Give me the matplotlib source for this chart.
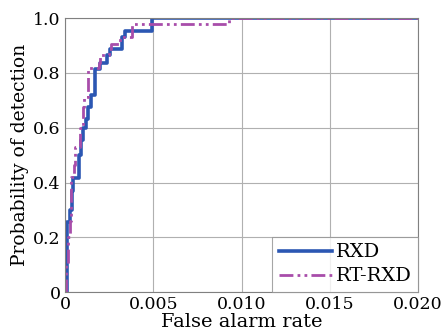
import numpy as np
import matplotlib
matplotlib.use("Agg")
import matplotlib.pyplot as plt

plt.rcParams['font.family'] = ['DejaVu Serif']

# ROC points (false alarm rate, probability of detection)
rxd_far = [0, 0.0001, 0.0003, 0.0004, 0.00044, 0.00081, 0.0009, 0.001, 0.0012,
           0.0013, 0.0015, 0.0017, 0.002, 0.00237, 0.00256, 0.00322, 0.00341,
           0.00493, 0.02]
rxd_pd = [0, 0.257, 0.30, 0.37, 0.415, 0.50, 0.555, 0.60, 0.63,
          0.676, 0.72, 0.816, 0.837, 0.865, 0.886, 0.932, 0.954,
          1.0, 1.0]

rt_far = [0, 0.00006, 0.00015, 0.0003, 0.00035, 0.0005, 0.00055, 0.00085, 0.001,
          0.0011, 0.0013, 0.0019, 0.002, 0.0025, 0.0026, 0.0031, 0.0038,
          0.0093, 0.02]
rt_pd = [0, 0.1, 0.2, 0.26, 0.42, 0.464, 0.53, 0.60, 0.676,
         0.713, 0.817, 0.835, 0.865, 0.886, 0.907, 0.93, 0.977,
         1.0, 1.0]

xticks = [0, 0.005, 0.010, 0.015, 0.020]
xlabels = ["0", "0.005", "0.010", "0.015", "0.020"]
yticks = [0, 0.2, 0.4, 0.6, 0.8, 1.0]
ylabels = ["0", "0.2", "0.4", "0.6", "0.8", "1.0"]

fig = plt.figure(figsize=(4.42, 3.35), dpi=100)
ax = fig.add_axes([0.147, 0.128, 0.799, 0.818])

ax.plot(rxd_far, rxd_pd, drawstyle="steps-post", color="#2b57b3", lw=2.6, label="RXD")
ax.plot(rt_far, rt_pd, drawstyle="steps-post", color="#a84daa", lw=2.0,
        linestyle=(0, (5, 1.5, 1, 1.5, 1, 1.5)), label="RT-RXD")

ax.set_xlim(0, 0.02)
ax.set_ylim(0, 1.0)
ax.set_xticks(xticks)
ax.set_xticklabels(xlabels)
ax.set_yticks(yticks)
ax.set_yticklabels(ylabels)
ax.tick_params(length=0, labelsize=12.5, pad=3)
ax.grid(True, color="#b0b0b0", lw=0.8)
for s in ax.spines.values():
    s.set_color("#808080")
    s.set_linewidth(0.8)

ax.set_xlabel("False alarm rate", fontsize=14, labelpad=0)
ax.set_ylabel("Probability of detection", fontsize=13.5, labelpad=3)

leg = ax.legend(loc="lower right", fontsize=14, handlelength=2.7, handletextpad=0.2,
                borderpad=0.35, labelspacing=0.3, borderaxespad=0.0, fancybox=False)
leg.get_frame().set_edgecolor("#909090")
leg.get_frame().set_linewidth(0.8)

plt.savefig("out.png", dpi=100)
